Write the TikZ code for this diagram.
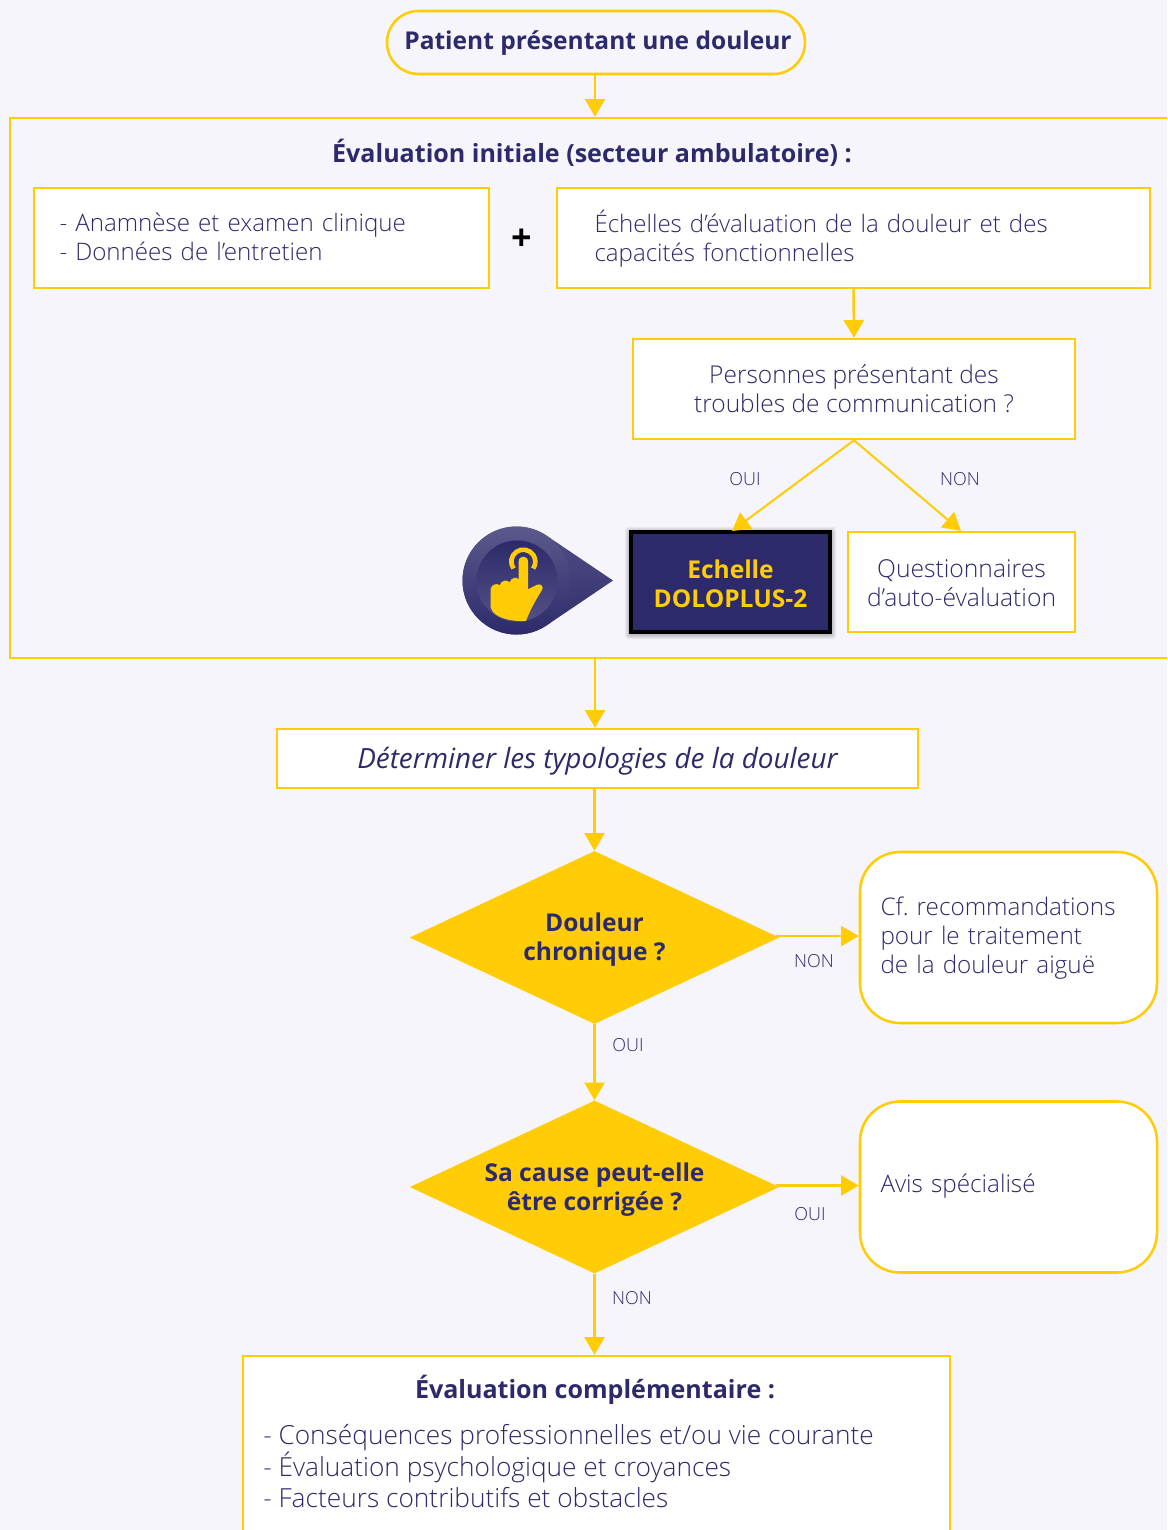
\documentclass[tikz,border=0pt]{standalone}
\usepackage{fontspec}
\setmainfont{Open Sans}
\newfontfamily\oslight{Open Sans Light}
\usetikzlibrary{arrows.meta,shapes.geometric}
\definecolor{jaune}{HTML}{FFCC05}
\definecolor{fond}{HTML}{F5F5FB}
\definecolor{marine}{HTML}{2D2A6B}
\frenchspacing
\tikzset{
  wh/.style 2 args={minimum width=#1*0.75pt,minimum height=#2*0.75pt},
  bx/.style={draw=jaune,line width=1.9pt,fill=white,text=marine,inner sep=0pt,align=center},
  lt/.style={text=marine,inner sep=0pt,align=center,font=\oslight\fontsize{#1}{21.75}\selectfont},
  ltl/.style 2 args={text=marine,inner sep=0pt,align=left,text width=#2*0.75pt,font=\oslight\fontsize{#1}{21.75}\selectfont},
  bt/.style={text=marine,inner sep=0pt,align=center,font=\bfseries\fontsize{18.4}{21.75}\selectfont},
  titre/.style={text=marine,font=\bfseries\fontsize{18.8}{21.75}\selectfont,align=center,inner sep=0pt},
  lab/.style={text=marine,font=\oslight\fontsize{13.5}{16}\selectfont,inner sep=0pt},
  los/.style={diamond,aspect=2.12,fill=jaune,inner sep=0pt,minimum width=369.5*0.75pt,minimum height=173*0.75pt},
  fl/.style={draw=jaune,line width=1.9pt,-{Triangle[length=13.25pt,width=15pt]}},
  fld/.style={draw=jaune,line width=1.5pt,-{Triangle[length=13.25pt,width=15pt]}},
}
\begin{document}
\begin{tikzpicture}[x=0.75pt,y=-0.75pt]
\path[use as bounding box,clip] (0,0) rectangle (1167,1530);
\fill[fond] (0,0) rectangle (1167,1530);

% top
\node[bx,fill=fond,wh={418}{63},rounded corners=23.6pt,label={[bt,xshift=1.5pt,yshift=-0.75pt]center:Patient présentant une douleur}] (start) at (596,42.5) {};
\node[draw=jaune,line width=1.9pt,wh={1170}{540},inner sep=0pt] (outer) at (595,388) {};
\node[titre] (t1) at (592,153) {Évaluation initiale (secteur ambulatoire) :};
\node[bx,wh={455}{100},label={[ltl={18.1}{404},yshift=0.9pt]center:- Anamnèse et examen clinique\\- Données de l’entretien}] (ana) at (261.5,238) {};
\node[font=\bfseries\fontsize{27}{27}\selectfont,text=black,inner sep=0pt] (plus) at (522,240) {+};
\node[bx,wh={593}{100},label={[ltl={18.05}{518},yshift=-0.75pt]center:Échelles d’évaluation de la douleur et des\\capacités fonctionnelles}] (ech) at (853.5,238) {};
\node[bx,wh={442}{100},font=\oslight\fontsize{18.4}{21.75}\selectfont] (pers) at (854,389) {Personnes présentant des\\troubles de communication ?};

% shadow of the Echelle box
\foreach \e in {1,...,5}
  \fill[black,opacity=.05,rounded corners=2pt] (630-\e,531-\e+1) rectangle (831+\e,633+\e+1);
\node[draw=black,line width=2.4pt,fill=marine,wh={199}{100},inner sep=0pt,label={[bt,text=jaune,yshift=-1.1pt]center:Echelle\\DOLOPLUS-2}] (dolo) at (730.5,582) {};
\node[bx,wh={227}{100},label={[lt={18.5},yshift=-0.9pt]center:Questionnaires\\d’auto-évaluation}] (quest) at (961.5,582) {};

\coordinate (pt1) at (732,531);
\coordinate (pt2) at (961,531);
\draw[fld] (pers.south) -- (pt1);
\draw[fld] (pers.south) -- (pt2);
\node[lab] (l1) at (745,479) {OUI};
\node[lab] (l2) at (960,479) {NON};

% pin with pointing hand
\shade[top color=marine!82!white,bottom color=marine] (613,580.5) -- (546.7,625.3) arc[start angle=-56,end angle=-304,radius=40.5pt] -- cycle;
\shade[top color=marine!78!white,bottom color=marine] (516.5,580.5) circle[radius=40.5pt];
\shade[top color=marine,bottom color=marine!82!white] (517,581) circle[radius=30.4pt];
\begin{scope}[shift={(455,520)},x=0.25pt,y=-0.25pt]
\draw[jaune,line width=3.5pt] (175.5,145.6) arc[start angle=215,end angle=-35,radius=9pt];
\fill[jaune] (107,262) -- (107,207) .. controls (108,193) and (128,188) .. (134,196)
  .. controls (138,180) and (158,178) .. (164,187)
  .. controls (168,172) and (186,170) .. (191,178) -- (191,125)
  .. controls (191,105) and (219,105) .. (219,125) -- (219,208) -- (247,194)
  .. controls (258,190) and (268,200) .. (260,212)
  .. controls (245,235) and (225,270) .. (213,303)
  .. controls (170,305) and (115,295) .. (107,262) -- cycle;
\end{scope}

% middle
\node[bx,wh={641}{59},label={[text=marine,inner sep=0pt,font=\itshape\fontsize{20.9}{24}\selectfont,yshift=-2.25pt]center:Déterminer les typologies de la douleur}] (det) at (597.5,758.5) {};
\node[los,label={[bt,yshift=-1.8pt]center:Douleur\\chronique ?}] (d1) at (594.5,937.5) {};
\node[los,label={[bt,yshift=-1.8pt]center:Sa cause peut-elle\\être corrigée ?}] (d2) at (594.5,1187) {};
\node[bx,wh={297}{171},rounded corners=30pt,label={[ltl={18.2}{256},yshift=-0.4pt]center:Cf. recommandations\\pour le traitement\\de la douleur aiguë}] (cf) at (1008.5,937.5) {};
\node[bx,wh={297}{171},rounded corners=30pt,label={[ltl={18.2}{256},yshift=0.9pt]center:Avis spécialisé}] (avis) at (1008.5,1187) {};
\node[lab] (l3) at (814,961) {NON};
\node[lab] (l4) at (628,1045) {OUI};
\node[lab] (l5) at (810,1214) {OUI};
\node[lab] (l6) at (632,1298) {NON};

% bottom
\node[bx,wh={707}{244}] (bot) at (596.5,1478) {};
\node[titre] (t2) at (595,1390) {Évaluation complémentaire :};
\node[text=marine,inner sep=0pt,align=left,anchor=north west,font=\oslight\fontsize{19.7}{23.7}\selectfont] (liste) at (263,1424) {- Conséquences professionnelles et/ou vie courante\\- Évaluation psychologique et croyances\\- Facteurs contributifs et obstacles};

% connectors
\draw[fl] (start.south -| outer.north) -- (outer.north);
\draw[fl] (ech.south) -- (pers.north);
\draw[fl] (outer.south) -- (outer.south |- det.north);
\draw[fl] (d1.north |- det.south) -- (d1.north);
\draw[fl] ([shift={(-3pt,1.1pt)}]d1.east) -- ([yshift=1.1pt]cf.west);
\draw[fl] (d1.south) -- (d2.north);
\draw[fl] ([shift={(-3pt,1.1pt)}]d2.east) -- ([yshift=1.1pt]avis.west);
\draw[fl] (d2.south) -- (d2.south |- bot.north);
\end{tikzpicture}
\end{document}
